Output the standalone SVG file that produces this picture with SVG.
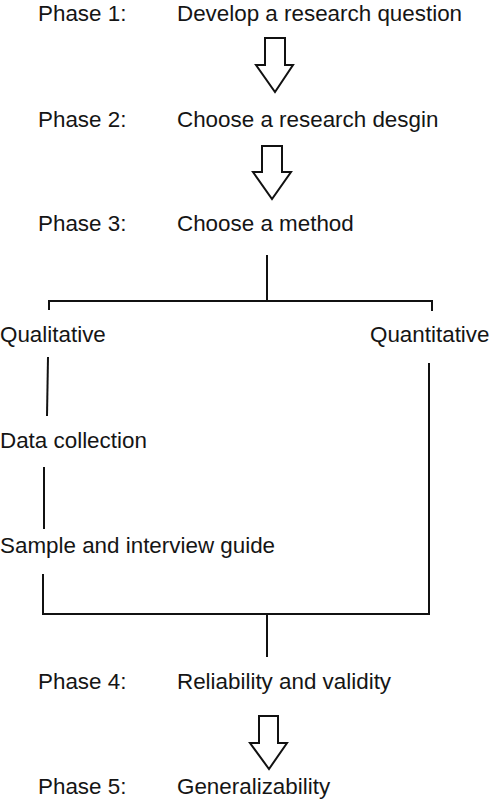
<svg xmlns="http://www.w3.org/2000/svg" width="492" height="800" viewBox="0 0 492 800">
  <style>
    text { font-family: "Liberation Sans", Arial, sans-serif; font-size: 22.4px; fill: #151515; }
    .line { fill: none; stroke: #111; stroke-width: 2; stroke-linecap: butt; stroke-linejoin: miter; }
    .arrow { fill: #fff; stroke: #111; stroke-width: 2; stroke-linejoin: miter; }
  </style>
  <rect width="492" height="800" fill="#fff"/>

  <!-- phase rows -->
  <g id="phase1"><text x="38" y="21">Phase 1:</text><text x="177" y="21">Develop a research question</text></g>
  <g id="phase2"><text x="38" y="127">Phase 2:</text><text x="177" y="127">Choose a research desgin</text></g>
  <g id="phase3"><text x="38" y="231">Phase 3:</text><text x="177" y="231">Choose a method</text></g>
  <g id="qualitative"><text x="0" y="342">Qualitative</text></g>
  <g id="quantitative"><text x="370" y="342">Quantitative</text></g>
  <g id="data-collection"><text x="0" y="448">Data collection</text></g>
  <g id="sample-guide"><text x="0" y="553">Sample and interview guide</text></g>
  <g id="phase4"><text x="38" y="689">Phase 4:</text><text x="177" y="689">Reliability and validity</text></g>
  <g id="phase5"><text x="38" y="794">Phase 5:</text><text x="177" y="794">Generalizability</text></g>

  <g id="connectors">
    <!-- block arrows between phases -->
    <path class="arrow" d="M265,38 H285 V65 H293 L275,92 L256,65 H265 Z"/>
    <path class="arrow" d="M262,146 H282 V172 H291 L272,199 L253,172 H262 Z"/>
    <path class="arrow" d="M259,716 H278 V743 H287 L269,769 L250,743 H259 Z"/>

    <!-- split into the two method branches -->
    <path class="line" d="M267,255 V301"/>
    <path class="line" d="M49,310 V301 H432 V311"/>
    <path class="line" d="M243,301 H298" stroke-width="3"/>

    <!-- qualitative chain -->
    <path class="line" d="M48,357 L47,416"/>
    <path class="line" d="M44,467 V529"/>

    <!-- merge back into phase 4 -->
    <path class="line" d="M43,574 V614 H429 V363"/>
    <path class="line" d="M267,614 V657"/>
  </g>
</svg>
